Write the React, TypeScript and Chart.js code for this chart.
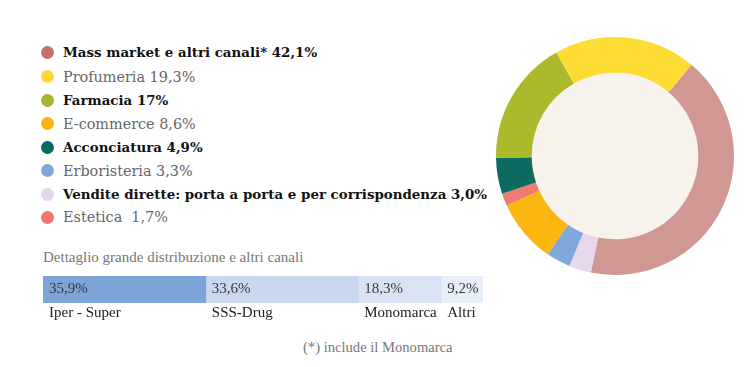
import React, { useEffect, useRef } from "react";
import { Chart, registerables } from "chart.js";

Chart.register(...registerables);

const channelLabels = [
  "Mass market e altri canali* 42,1%",
  "Profumeria 19,3%",
  "Farmacia 17%",
  "E-commerce 8,6%",
  "Acconciatura 4,9%",
  "Erboristeria 3,3%",
  "Vendite dirette: porta a porta e per corrispondenza 3,0%",
  "Estetica\u00a0 1,7%",
];
const channelBold = [true, false, true, false, true, false, true, false];
const dotColors = ["#c76f6e", "#fdd935", "#a9b52f", "#f8b511", "#0b685e", "#80a7d9", "#e5d6eb", "#ee7570"];

// donut order (clockwise from ~40°)
const donutNames = ["Mass market", "Vendite dirette", "Erboristeria", "E-commerce", "Estetica", "Acconciatura", "Farmacia", "Profumeria"];
const donutValues = [42.1, 3.0, 3.3, 8.6, 1.7, 4.9, 17, 19.3];
const donutColors = ["#d19792", "#e6d7ec", "#80a8da", "#f9b70f", "#ee7a72", "#0b6b61", "#adb92d", "#fddc33"];

const detailLabels = ["Iper - Super", "SSS-Drug", "Monomarca", "Altri"];
const detailValues = [35.9, 33.6, 18.3, 9.2];
const detailText = ["35,9%", "33,6%", "18,3%", "9,2%"];
const detailColors = ["#7ca4d7", "#c9d8ee", "#d9e3f4", "#e8eff9"];

const SERIF = "'Liberation Serif', 'DejaVu Serif', serif";
const WIDE_SERIF = "'DejaVu Serif', 'Liberation Serif', serif";

export default function App() {
  const donutRef = useRef<HTMLCanvasElement | null>(null);
  const barRef = useRef<HTMLCanvasElement | null>(null);

  useEffect(() => {
    const innerFill = {
      id: "innerFill",
      beforeDatasetsDraw(chart: any) {
        const arc = chart.getDatasetMeta(0).data[0] as any;
        if (!arc) return;
        const ctx = chart.ctx;
        ctx.save();
        ctx.fillStyle = "#f7f3ec";
        ctx.beginPath();
        ctx.arc(arc.x, arc.y, arc.innerRadius + 1, 0, Math.PI * 2);
        ctx.fill();
        ctx.restore();
      },
    };
    const donut = new Chart(donutRef.current!, {
      type: "doughnut",
      data: {
        labels: donutNames,
        datasets: [
          {
            data: donutValues,
            backgroundColor: donutColors,
            borderWidth: 0,
          },
        ],
      },
      options: {
        animation: false,
        responsive: false,
        rotation: 40,
        cutout: "70%",
        layout: { padding: 0 },
        plugins: { legend: { display: false }, tooltip: { enabled: false } },
      },
      plugins: [innerFill],
    });

    const barLabels = {
      id: "barLabels",
      afterDatasetsDraw(chart: any) {
        const ctx = chart.ctx;
        ctx.save();
        ctx.textBaseline = "middle";
        ctx.textAlign = "left";
        chart.data.datasets.forEach((ds: any, i: number) => {
          const el = chart.getDatasetMeta(i).data[0] as any;
          if (!el) return;
          const left = Math.min(el.x, el.base);
          ctx.font = `15px ${SERIF}`;
          ctx.fillStyle = "#3a3a3a";
          ctx.fillText(detailText[i], left + 6, el.y);
          ctx.fillStyle = "#222";
          ctx.fillText(detailLabels[i], left + 6, chart.chartArea.bottom + 10);
        });
        ctx.restore();
      },
    };
    const total = detailValues.reduce((a, b) => a + b, 0);
    const bar = new Chart(barRef.current!, {
      type: "bar",
      data: {
        labels: ["Dettaglio"],
        datasets: detailValues.map((v, i) => ({
          label: detailLabels[i],
          data: [v],
          backgroundColor: detailColors[i],
          borderWidth: 0,
          barPercentage: 1,
          categoryPercentage: 1,
        })),
      },
      options: {
        animation: false,
        responsive: false,
        indexAxis: "y",
        layout: { padding: { top: 0, bottom: 19, left: 0, right: 0 } },
        scales: {
          x: { stacked: true, display: false, min: 0, max: total },
          y: { stacked: true, display: false },
        },
        plugins: { legend: { display: false }, tooltip: { enabled: false } },
      },
      plugins: [barLabels],
    });

    return () => {
      donut.destroy();
      bar.destroy();
    };
  }, []);

  const rowCenters = [52, 76.5, 100, 123.5, 147, 170.5, 194, 217];

  return (
    <div
      style={{
        position: "absolute",
        left: 0,
        top: 0,
        width: 749,
        height: 367,
        background: "#ffffff",
        fontFamily: SERIF,
        overflow: "hidden",
      }}
    >
      {channelLabels.map((label, i) => (
        <div
          key={label}
          style={{
            position: "absolute",
            left: 41,
            top: rowCenters[i] - 12,
            height: 24,
            display: "flex",
            alignItems: "center",
            whiteSpace: "pre",
          }}
        >
          <span
            style={{
              display: "inline-block",
              width: 13,
              height: 13,
              borderRadius: "50%",
              background: dotColors[i],
              marginRight: 9,
            }}
          />
          <span
            style={{
              fontFamily: WIDE_SERIF,
              fontSize: channelBold[i] ? 13.4 : 14.4,
              fontWeight: channelBold[i] ? 700 : 400,
              color: channelBold[i] ? "#111111" : "#666666",
            }}
          >
            {label}
          </span>
        </div>
      ))}
      <div
        style={{
          position: "absolute",
          left: 43,
          top: 249,
          fontSize: 15,
          color: "#777777",
          whiteSpace: "nowrap",
        }}
      >
        Dettaglio grande distribuzione e altri canali
      </div>
      <canvas
        ref={barRef}
        width={440}
        height={46}
        style={{ position: "absolute", left: 43, top: 276, width: 440, height: 46 }}
      />
      <div
        style={{
          position: "absolute",
          left: 303,
          top: 339,
          fontSize: 14.6,
          color: "#777777",
          whiteSpace: "nowrap",
        }}
      >
        (*) include il Monomarca
      </div>
      <canvas
        ref={donutRef}
        width={238}
        height={240}
        style={{ position: "absolute", left: 496, top: 36, width: 238, height: 240 }}
      />
    </div>
  );
}
